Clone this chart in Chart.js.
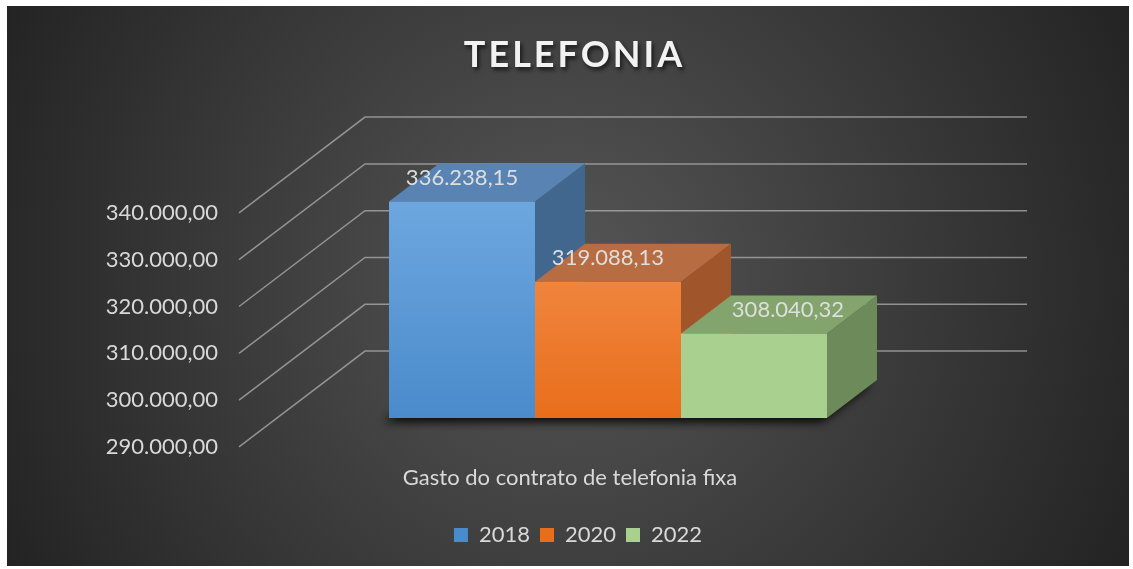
<!DOCTYPE html>
<html>
<head>
<meta charset="utf-8">
<title>Telefonia</title>
<script src="https://cdn.jsdelivr.net/npm/chart.js@4.4.1/dist/chart.umd.min.js"></script>
<style>
    html, body { margin: 0; padding: 0; background: #ffffff; }
    canvas { display: block; }
</style>
</head>
<body>
<canvas id="telefoniaChart" width="1133" height="569"></canvas>
<script>
// Data
const chartTitle = 'TELEFONIA';
const categories = ['Gasto do contrato de telefonia fixa'];
const seriesNames = ['2018', '2020', '2022'];
const values2018 = [336238.15];
const values2020 = [319088.13];
const values2022 = [308040.32];
const yTicks = [290000, 300000, 310000, 320000, 330000, 340000];

// Styling
const FONT = 'Lato, "Open Sans", sans-serif';
const TEXT_COLOR = '#d9d9d9';
const frontTop = ['#70a9e1', '#f59455', '#a9d08e'];
const frontBottom = ['#4a8bcb', '#e86e1b', '#a9d08e'];
const topColors = ['#5883b3', '#b86c42', '#83a46c'];
const sideColors = ['#42678f', '#a0552b', '#6c8a5a'];
const labelShift = [0, 0, 34];
// depth vector of one bar (3D look) and wall positions in bar depths
const DX = 50, DY = -38;
const WALL_FRONT = -0.76, WALL_BACK = 1.76;

function formatBR(v) {
    const parts = v.toFixed(2).split('.');
    return parts[0].replace(/\B(?=(\d{3})+(?!\d))/g, '.') + ',' + parts[1];
}

function fillPoly(ctx, color, pts) {
    ctx.fillStyle = color;
    ctx.beginPath();
    ctx.moveTo(pts[0][0], pts[0][1]);
    for (let i = 1; i < pts.length; i++) ctx.lineTo(pts[i][0], pts[i][1]);
    ctx.closePath();
    ctx.fill();
}

function frontGradient(i) {
    return function(context) {
        const chart = context.chart;
        const area = chart.chartArea;
        if (!area) return frontBottom[i];
        const g = chart.ctx.createLinearGradient(0, area.top, 0, area.bottom);
        g.addColorStop(0, frontTop[i]);
        g.addColorStop(1, frontBottom[i]);
        return g;
    };
}

// Dark radial background panel + title
const backgroundPlugin = {
    id: 'panelBackground',
    beforeDraw(chart) {
        const ctx = chart.ctx;
        ctx.save();
        ctx.fillStyle = '#ffffff';
        ctx.fillRect(0, 0, chart.width, chart.height);
        const g = ctx.createRadialGradient(566, 280, 0, 566, 280, 630);
        g.addColorStop(0, '#565656');
        g.addColorStop(1, '#232323');
        ctx.fillStyle = g;
        ctx.fillRect(7, 6, 1122, 560);

        ctx.font = 'bold 36px ' + FONT;
        ctx.textAlign = 'center';
        ctx.textBaseline = 'middle';
        ctx.letterSpacing = '3px';
        ctx.shadowColor = 'rgba(0,0,0,0.65)';
        ctx.shadowBlur = 4;
        ctx.shadowOffsetX = 2;
        ctx.shadowOffsetY = 3;
        ctx.fillStyle = '#f2f2f2';
        ctx.fillText(chartTitle, chart.width / 2 + 8, 55);
        ctx.restore();
    }
};

// Walls, floor shadow and the top/side faces of the bars
const bars3dPlugin = {
    id: 'bars3d',
    beforeDatasetsDraw(chart) {
        const ctx = chart.ctx;
        const area = chart.chartArea;
        const yScale = chart.scales.y;
        ctx.save();

        // gridlines on the back wall and the side wall
        ctx.strokeStyle = 'rgba(175,175,175,0.75)';
        ctx.lineWidth = 1.5;
        yScale.ticks.forEach(function(t) {
            const py = yScale.getPixelForValue(t.value);
            const by = py + WALL_BACK * DY;
            ctx.beginPath();
            ctx.moveTo(area.left + WALL_FRONT * DX, py + WALL_FRONT * DY);
            ctx.lineTo(area.left + WALL_BACK * DX, by);
            ctx.lineTo(area.right + WALL_BACK * DX, by);
            ctx.stroke();
        });

        const metas = chart.getSortedVisibleDatasetMetas();
        const first = metas[0].data[0];
        const last = metas[metas.length - 1].data[0];
        const x0 = first.x - first.width / 2;
        const x1 = last.x + last.width / 2;
        const base = yScale.getPixelForValue(yScale.min);

        // soft shadow under the block of bars
        ctx.save();
        ctx.shadowColor = 'rgba(0,0,0,0.9)';
        ctx.shadowBlur = 10;
        ctx.shadowOffsetX = -5;
        ctx.shadowOffsetY = 4;
        fillPoly(ctx, '#1c1c1c', [[x0, base], [x1, base], [x1 + DX, base + DY], [x0 + DX, base + DY]]);
        ctx.restore();

        metas.forEach(function(meta, i) {
            const bar = meta.data[0];
            const l = bar.x - bar.width / 2;
            const r = bar.x + bar.width / 2;
            const top = bar.y;
            const bottom = base;
            fillPoly(ctx, sideColors[i], [[r, top], [r + DX, top + DY], [r + DX, bottom + DY], [r, bottom]]);
            fillPoly(ctx, topColors[i], [[l, top], [r, top], [r + DX, top + DY], [l + DX, top + DY]]);
        });
        ctx.restore();
    },
    afterDatasetsDraw(chart) {
        const ctx = chart.ctx;
        ctx.save();
        ctx.font = '22px ' + FONT;
        ctx.fillStyle = '#dedede';
        ctx.textAlign = 'center';
        ctx.textBaseline = 'middle';
        chart.getSortedVisibleDatasetMetas().forEach(function(meta, i) {
            const bar = meta.data[0];
            const value = chart.data.datasets[meta.index].data[0];
            ctx.fillText(formatBR(value), bar.x + labelShift[i], bar.y - 24);
        });
        ctx.restore();
    }
};

document.addEventListener('DOMContentLoaded', function() {
    const ctx = document.getElementById('telefoniaChart');
    const seriesValues = [values2018, values2020, values2022];

    new Chart(ctx, {
        type: 'bar',
        data: {
            labels: categories,
            datasets: seriesNames.map(function(name, i) {
                return {
                    label: name,
                    data: seriesValues[i],
                    base: yTicks[0],
                    backgroundColor: frontGradient(i),
                    borderWidth: 0,
                    barPercentage: 1,
                    categoryPercentage: 0.6616
                };
            })
        },
        options: {
            responsive: false,
            animation: false,
            layout: {
                padding: { top: 184, left: 23, right: 0, bottom: 13 }
            },
            plugins: {
                title: { display: false },
                tooltip: { enabled: false },
                legend: {
                    position: 'bottom',
                    labels: {
                        color: TEXT_COLOR,
                        font: { family: FONT, size: 22 },
                        boxWidth: 14,
                        boxHeight: 14,
                        padding: 10
                    }
                }
            },
            scales: {
                x: {
                    grid: { display: false, drawTicks: false },
                    border: { display: false },
                    ticks: {
                        color: TEXT_COLOR,
                        font: { family: FONT, size: 22 },
                        padding: 47,
                        labelOffset: -38,
                        maxRotation: 0
                    },
                    afterFit: function(scale) { scale.height = 96; }
                },
                y: {
                    min: yTicks[0],
                    max: yTicks[yTicks.length - 1],
                    grid: { display: false, drawTicks: false },
                    border: { display: false },
                    ticks: {
                        stepSize: yTicks[1] - yTicks[0],
                        color: TEXT_COLOR,
                        font: { family: FONT, size: 22 },
                        padding: 59,
                        labelOffset: 29,
                        callback: function(value) {
                            return formatBR(value);
                        }
                    },
                    afterFit: function(scale) { scale.width = 254; }
                },
                // empty axis that only keeps room on the right for the 3D depth
                yRight: {
                    position: 'right',
                    grid: { display: false, drawTicks: false },
                    border: { display: false },
                    ticks: { display: false },
                    afterFit: function(scale) { scale.width = 194; }
                }
            }
        },
        plugins: [backgroundPlugin, bars3dPlugin]
    });
});
</script>
</body>
</html>
